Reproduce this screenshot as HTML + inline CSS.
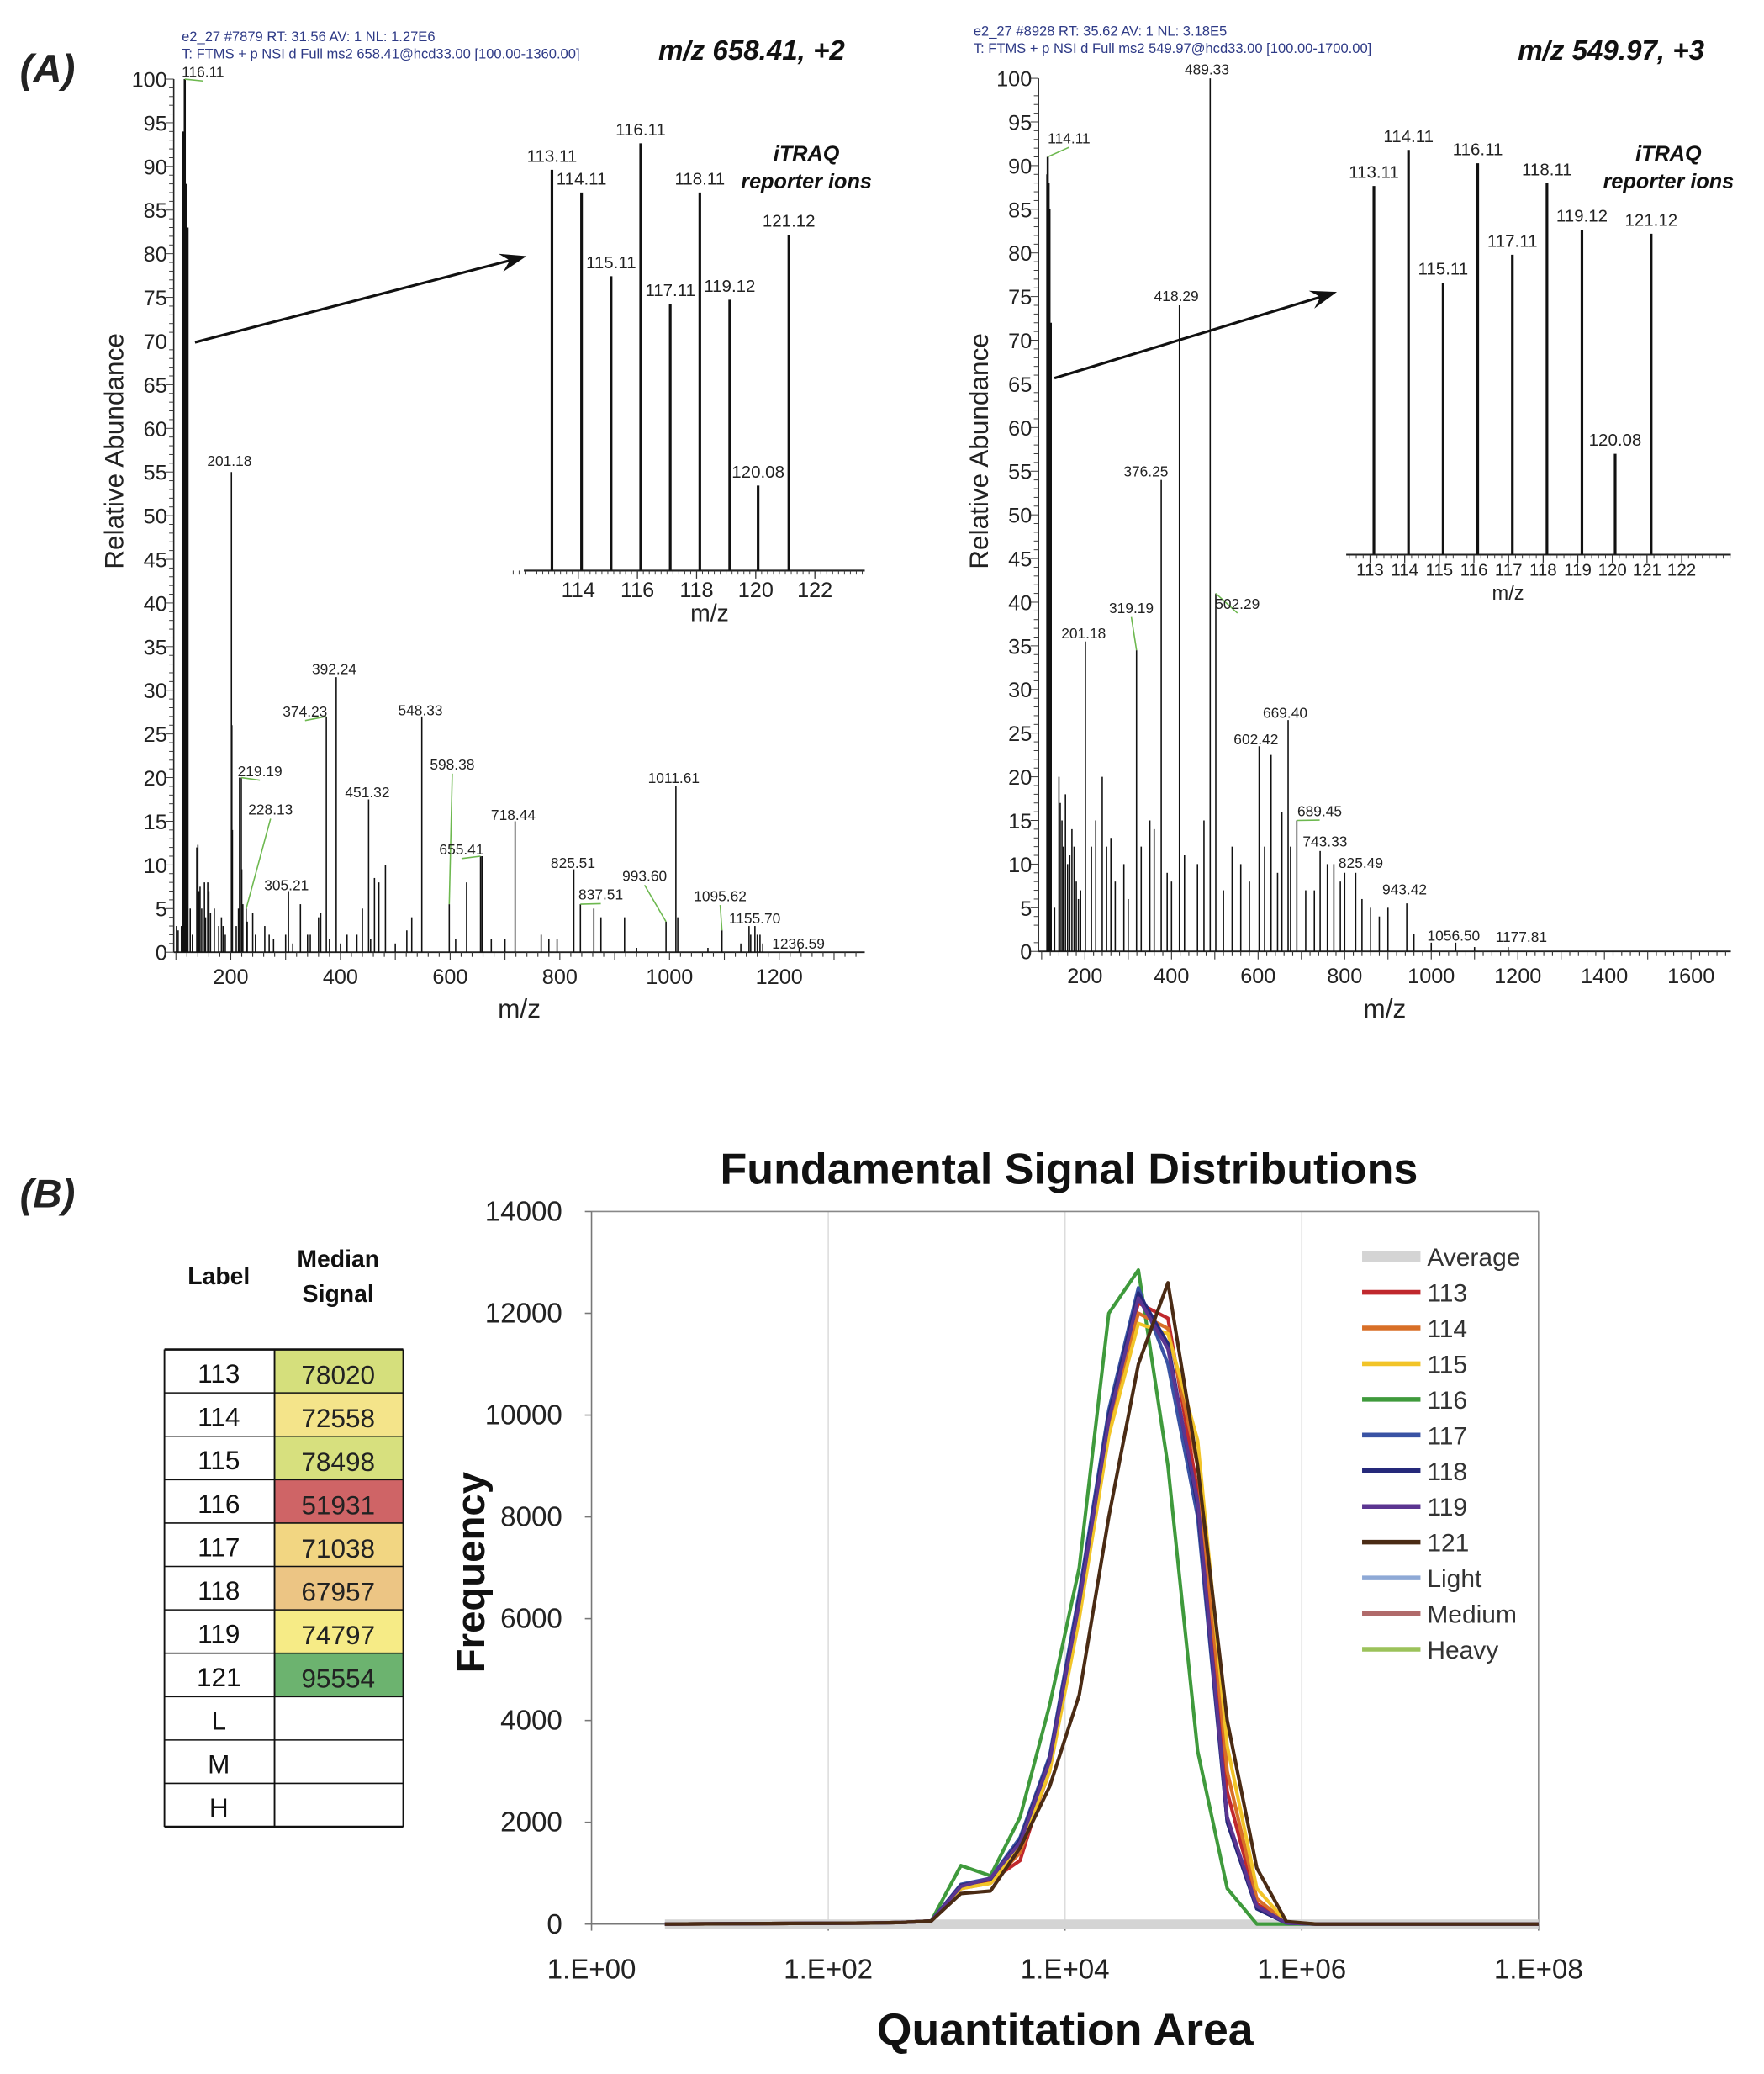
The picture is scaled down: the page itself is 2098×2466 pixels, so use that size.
<!DOCTYPE html>
<html><head><meta charset="utf-8"><title>iTRAQ spectra and signal distributions</title>
<style>
html,body{margin:0;padding:0;background:#fff;}
svg{display:block;font-family:"Liberation Sans",sans-serif;}
.narrow{font-family:"Liberation Sans Narrow","Liberation Sans",sans-serif;}
</style></head>
<body>
<svg id="fig" width="2098" height="2466" viewBox="0 0 1330 1563" preserveAspectRatio="none" xmlns="http://www.w3.org/2000/svg">
<g id="A"></g><g id="B"></g>
</svg>
<script>
// ===== Panel A data: left spectrum (m/z 658.41, +2) =====
const leftMz = [101,104,110,113.11,114.11,115.11,116.11,117.11,118.11,119.12,120.08,121.12,126,130,138,140,142,144,147,152,154,158,160,163,170,178,183,186,190,201.18,202,203,210,214,216,219.19,220,222,228.13,230,240,245,262,270,278,300,305.21,313,327,340,345,360,364,374.23,380,392.24,400,412,430,440,451.32,455,462,470,482,500,521,530,548.33,598.38,610,630,655.41,658,675,700,718.44,766,780,795,825.51,837.51,862,875,918,940,993.60,1011.61,1015,1070,1095.62,1130,1145,1148,1155.70,1160,1165,1170,1236.59];
const leftInt = [3,2.5,3,94,89,79,100,65,88,76,54,83,5,2,12,12.3,7,7.5,5,8,4,8,7,4.5,5,3,4,3,2,55,26,14,3,5,20,20,9.5,5.5,5,3.5,4.5,2,3,2,1.5,2,7,1,5.5,2,2,4,4.5,27,1.5,31.5,1,2,2,5,17.5,1.5,8.5,8,10,1,2.5,4,27,5.5,1.5,8,11,11,1.5,1.5,15,2,1.5,1.5,9.5,5.5,5,4,4,0.5,3.5,19,4,0.5,2.5,1,3,2,3,2,2,1,0.5];
const leftLabels = [["116.11",116.11,153,58],["201.18",201.18,173,351],["219.19",219.19,196,585],["228.13",228.13,204,614],["305.21",305.21,216,671],["374.23",374.23,230,540],["392.24",392.24,252,508],["451.32",451.32,277,601],["548.33",548.33,317,539],["598.38",598.38,341,580],["655.41",655.41,348,644],["718.44",718.44,387,618],["825.51",825.51,432,654],["837.51",837.51,453,678],["993.60",993.60,486,664],["1011.61",1011.61,508,590],["1095.62",1095.62,543,679],["1155.70",1155.70,569,696],["1236.59",1236.59,602,715]];
const leftXTicks = [200,400,600,800,1000,1200];
const insLMz = [113.11,114.11,115.11,116.11,117.11,118.11,119.12,120.08,121.12];
const insLInt = [93.8,88.5,68.9,100,62.4,88.5,63.4,19.9,78.6];
const insLTicks = [114,116,118,120,122];
// ===== right spectrum (m/z 549.97, +3) =====
const rightMz = [113.11,114.11,115.11,116.11,117.11,118.11,119.12,121.12,130,140,143,147,150,155,160,165,170,175,180,185,190,201.18,215,225,240,250,260,270,290,300,319.19,330,350,360,376.25,390,400,418.29,430,460,475,489.33,502.29,520,540,560,580,602.42,615,630,645,655,669.40,675,689.45,710,730,743.33,760,775,790,800,825.49,840,860,880,900,943.42,960,1000,1056.50,1100,1177.81];
const rightInt = [89,91,73,88,75,85,70,72,5,20,17,15,12,18,10,11,14,12,8,6,7,35.5,12,15,20,12,13,8,10,6,34.5,12,15,14,54,9,8,74,11,10,15,100,41,7,12,10,8,23.5,12,22.5,9,16,26.5,12,15,7,7,11.5,10,10,8,9,9,6,5,4,5,5.5,2,1,1,0.5,0.5];
const rightLabels = [["114.11",114.11,806,108],["489.33",489.33,910,56],["418.29",418.29,887,227],["376.25",376.25,864,359],["319.19",319.19,853,462],["201.18",201.18,817,481],["502.29",502.29,933,459],["669.40",669.40,969,541],["602.42",602.42,947,561],["689.45",689.45,995,615],["743.33",743.33,999,638],["825.49",825.49,1026,654],["943.42",943.42,1059,674],["1056.50",1056.50,1096,709],["1177.81",1177.81,1147,710]];
const rightXTicks = [200,400,600,800,1000,1200,1400,1600];
const insRMz = [113.11,114.11,115.11,116.11,117.11,118.11,119.12,120.08,121.12];
const insRInt = [91.1,100,67.2,96.7,74.1,91.8,80.3,24.9,79.3];
const insRTicks = [113,114,115,116,117,118,119,120,121,122];

// ===== Panel B data =====
const tableLabels = ["113","114","115","116","117","118","119","121","L","M","H"];
const tableValues = ["78020","72558","78498","51931","71038","67957","74797","95554","","",""];
const tableColors = ["#d5df7c","#f4e48a","#d7e07e","#cf6466","#f2d682","#ecc584","#f6eb86","#6cb36f","#fff","#fff","#fff"];
const seriesNames = ["Average","113","114","115","116","117","118","119","121","Light","Medium","Heavy"];
const seriesColors = ["#d4d4d4","#c0282d","#d86f27","#f2c428","#3f9a3c","#3953a4","#25297a","#5b3591","#4a2b14","#8ea9d6","#b06a6a","#9bc25a"];
const logX = [0.62,2.37,2.62,2.87,3.12,3.37,3.62,3.87,4.12,4.37,4.62,4.87,5.12,5.37,5.62,5.87,6.12,8.0];
const sAverage = [0,0,0,0,0,0,0,0,0,0,0,0,0,0,0,0,0,0];
const s113 = [0,20,30,60,700,850,1250,3100,6300,10000,12200,11900,8500,2600,400,30,0,0];
const s114 = [0,20,30,60,700,800,1400,3000,6200,9800,12000,11700,9000,3000,500,30,0,0];
const s115 = [0,20,30,60,700,800,1500,3000,6000,9600,11800,11600,9500,3500,700,40,0,0];
const s116 = [0,20,30,60,1150,950,2100,4300,7000,12000,12850,9000,3400,700,0,0,0,0];
const s117 = [0,20,30,60,780,900,1700,3300,6500,10100,12500,11000,8000,2000,300,20,0,0];
const s118 = [0,20,30,60,760,880,1650,3250,6400,10000,12400,11400,8200,2000,300,20,0,0];
const s119 = [0,20,30,60,740,900,1600,3200,6300,9900,12300,11300,8300,2100,350,20,0,0];
const s121 = [0,20,30,60,600,650,1500,2700,4500,8000,11000,12600,9000,4000,1100,50,0,0];
const sLight = [0,0,0,0,0,0,0,0,0,0,0,0,0,0,0,0,0,0];
const sMedium = [0,0,0,0,0,0,0,0,0,0,0,0,0,0,0,0,0,0];
const sHeavy = [0,0,0,0,0,0,0,0,0,0,0,0,0,0,0,0,0,0];
const yTicksB = [0,2000,4000,6000,8000,10000,12000,14000];
const xTicksB = ["1.E+00","1.E+02","1.E+04","1.E+06","1.E+08"];

const NS="http://www.w3.org/2000/svg";
function mk(parent,tag,attrs,text){const e=document.createElementNS(NS,tag);for(const k in attrs)e.setAttribute(k,attrs[k]);if(text!==undefined)e.textContent=text;parent.appendChild(e);return e;}
const A=document.getElementById('A'), B=document.getElementById('B');

let t;
t=mk(A,'text',{x:15,y:62,'font-size':30,'font-weight':'bold','font-style':'italic',fill:'#222'},'(A)');

t=mk(B,'text',{x:15,y:910,'font-size':30,'font-weight':'bold','font-style':'italic',fill:'#222'},'(B)');


function spectrum(cfg){
  const g=mk(A,'g',{});
  
  const X=mz=>cfg.x0+(mz-cfg.mz0)*cfg.kx, Y=v=>cfg.y0-v*cfg.ky;
  t=mk(g,'text',{x:cfg.hx,y:cfg.hy,'font-size':10.5,fill:'#2e3a86'},cfg.h1);
  
  t=mk(g,'text',{x:cfg.hx,y:cfg.hy+13,'font-size':10.5,fill:'#2e3a86'},cfg.h2);
  
  t=mk(g,'text',{x:cfg.tx,y:45,'font-size':21,'font-weight':'bold','font-style':'italic','text-anchor':'end',fill:'#111'},cfg.title);
  
  mk(g,'line',{x1:cfg.ax,y1:Y(100),x2:cfg.ax,y2:cfg.y0,stroke:'#222','stroke-width':1});
  mk(g,'line',{x1:cfg.ax,y1:cfg.y0,x2:cfg.xend,y2:cfg.y0,stroke:'#222','stroke-width':1.2});
  for(let v=0;v<=100;v++){const major=v%5===0;mk(g,'line',{x1:cfg.ax-(major?6:3.5),y1:Y(v),x2:cfg.ax,y2:Y(v),stroke:'#333','stroke-width':0.6});
    if(major){t=mk(g,'text',{x:cfg.ax-5,y:Y(v)+6,'font-size':16,'text-anchor':'end',fill:'#222'},String(v));}}
  for(let m=100;X(m)<=cfg.xend;m+=20){const major=m%100===0;mk(g,'line',{x1:X(m),y1:cfg.y0,x2:X(m),y2:cfg.y0+(major?6:3.5),stroke:'#333','stroke-width':0.7});}
  cfg.xticks.forEach(m=>{t=mk(g,'text',{x:X(m),y:cfg.y0+24,'font-size':16,'text-anchor':'middle',fill:'#222'},String(m));});
  t=mk(g,'text',{x:(cfg.ax+cfg.xend)/2,y:767,'font-size':20,'text-anchor':'middle',fill:'#222'},'m/z');
  
  t=mk(g,'text',{x:0,y:0,'font-size':20,'text-anchor':'middle',fill:'#222',transform:`translate(${cfg.ax-38},340) rotate(-90)`},'Relative Abundance');
  
  cfg.mz.forEach((m,i)=>{const p=mk(g,'line',{x1:X(m),y1:cfg.y0,x2:X(m),y2:Y(cfg.int[i]),stroke:'#111','stroke-width':i<12&&cfg.int[i]>50?1.6:1});
    });
  cfg.labels.forEach(L=>{const idx=cfg.mz.indexOf(L[1]);const px=X(L[1]),py=Y(idx>=0?cfg.int[idx]:1);
    if(Math.abs(L[2]-px)>12||L[3]<py-14){mk(g,'line',{x1:px,y1:py,x2:L[2],y2:L[3]+3,stroke:'#6db84f','stroke-width':1});}
    t=mk(g,'text',{x:L[2],y:L[3],'font-size':11,'text-anchor':'middle',fill:'#222'},L[0]);});
  const ig=mk(g,'g',{});
  const IX=m=>cfg.ix0+(m-cfg.imz0)*cfg.ikx, IY=v=>cfg.iy0-v*cfg.iky;
  mk(ig,'line',{x1:cfg.ixs,y1:cfg.iy0,x2:cfg.ixe,y2:cfg.iy0,stroke:'#222','stroke-width':1.3});
  for(let m=Math.ceil(cfg.imzs*5)/5;IX(m)<=cfg.ixe;m+=0.2){mk(ig,'line',{x1:IX(m),y1:cfg.iy0,x2:IX(m),y2:cfg.iy0+3,stroke:'#333','stroke-width':0.6});}
  cfg.iticks.forEach(m=>{mk(ig,'line',{x1:IX(m),y1:cfg.iy0,x2:IX(m),y2:cfg.iy0+6,stroke:'#333','stroke-width':0.8});
    t=mk(ig,'text',{x:IX(m),y:cfg.iy0+cfg.itd,'font-size':cfg.ifs,'text-anchor':'middle',fill:'#222'},String(m));});
  t=mk(ig,'text',{x:cfg.imx,y:cfg.iy0+cfg.itd+18,'font-size':cfg.ifs+2,'text-anchor':'middle',fill:'#222'},'m/z');
  
  cfg.imz.forEach((m,i)=>{const p=mk(ig,'line',{x1:IX(m),y1:cfg.iy0,x2:IX(m),y2:IY(cfg.iint[i]),stroke:'#111','stroke-width':2});
    
    t=mk(ig,'text',{x:IX(m),y:IY(cfg.iint[i])-6,'font-size':13,'text-anchor':'middle',fill:'#222'},m.toFixed(2));
    });
  t=mk(ig,'text',{x:cfg.itx,y:121,'font-size':16,'font-weight':'bold','font-style':'italic','text-anchor':'middle',fill:'#111'},'iTRAQ');
  
  t=mk(ig,'text',{x:cfg.itx,y:142,'font-size':16,'font-weight':'bold','font-style':'italic','text-anchor':'middle',fill:'#111'},'reporter ions');
  
  const a=cfg.arrow;const ang=Math.atan2(a[3]-a[1],a[2]-a[0]);
  mk(g,'line',{x1:a[0],y1:a[1],x2:a[2]-10*Math.cos(ang),y2:a[3]-10*Math.sin(ang),stroke:'#111','stroke-width':2});
  const hx=a[2],hy=a[3],L=20,W=7;
  const ar=mk(g,'polygon',{points:`${hx},${hy} ${hx-L*Math.cos(ang)+W*Math.sin(ang)},${hy-L*Math.sin(ang)-W*Math.cos(ang)} ${hx-13*Math.cos(ang)},${hy-13*Math.sin(ang)} ${hx-L*Math.cos(ang)-W*Math.sin(ang)},${hy-L*Math.sin(ang)+W*Math.cos(ang)}`,fill:'#111'});
  
}
spectrum({name:'spectrum-left',x0:174,mz0:200,kx:0.4135,y0:717.6,ky:6.58,ax:131,xend:652,
  hx:137,hy:31,h1:'e2_27 #7879  RT: 31.56  AV: 1  NL: 1.27E6',h2:'T: FTMS + p NSI d Full ms2 658.41@hcd33.00 [100.00-1360.00]',
  tx:637,title:'m/z 658.41, +2',xticks:leftXTicks,mz:leftMz,int:leftInt,labels:leftLabels,
  ix0:436,imz0:114,ikx:22.3,iy0:430,iky:3.22,ixs:395,ixe:652,imzs:111.7,iticks:insLTicks,itd:20,ifs:16,imx:535,
  imz:insLMz,iint:insLInt,itx:608,arrow:[147,258,397,193]});
spectrum({name:'spectrum-right',x0:818,mz0:200,kx:0.3264,y0:717,ky:6.58,ax:783,xend:1305,
  hx:734,hy:27,h1:'e2_27 #8928  RT: 35.62  AV: 1  NL: 3.18E5',h2:'T: FTMS + p NSI d Full ms2 549.97@hcd33.00 [100.00-1700.00]',
  tx:1285,title:'m/z 549.97, +3',xticks:rightXTicks,mz:rightMz,int:rightInt,labels:rightLabels,
  ix0:1033,imz0:113,ikx:26.1,iy0:418,iky:3.05,ixs:1015,ixe:1305,imzs:112.3,iticks:insRTicks,itd:16,ifs:13,imx:1137,
  imz:insRMz,iint:insRInt,itx:1258,arrow:[795,285,1008,220]});

// ===== Panel B: table =====
const tg=mk(B,'g',{class:'narrow'});

t=mk(tg,'text',{x:165,y:968,'font-size':18,'font-weight':'bold','text-anchor':'middle',fill:'#111'},'Label');

t=mk(tg,'text',{x:255,y:955,'font-size':18,'font-weight':'bold','text-anchor':'middle',fill:'#111'},'Median');

t=mk(tg,'text',{x:255,y:981,'font-size':18,'font-weight':'bold','text-anchor':'middle',fill:'#111'},'Signal');

const rowH=32.7, top0=1017;
tableLabels.forEach((lb,i)=>{const y=top0+i*rowH;
  const c=mk(tg,'rect',{x:207,y:y,width:97,height:rowH,fill:tableColors[i]});
  t=mk(tg,'text',{x:165,y:y+25,'font-size':20,'text-anchor':'middle',fill:'#111'},lb);
  t=mk(tg,'text',{x:255,y:y+26,'font-size':20,'text-anchor':'middle',fill:'#222'},tableValues[i]);
});
for(let i=0;i<=tableLabels.length;i++){mk(tg,'line',{x1:124,y1:top0+i*rowH,x2:304,y2:top0+i*rowH,stroke:'#111','stroke-width':i===0||i===tableLabels.length?1.6:1});}
[124,207,304].forEach(x=>mk(tg,'line',{x1:x,y1:top0,x2:x,y2:top0+tableLabels.length*rowH,stroke:'#111','stroke-width':1.2}));

// ===== Panel B: chart =====
const cg=mk(B,'g',{});
const PL=446,PR=1160,PT=913,PB=1450;
const xs=l=>PL+(l/8)*(PR-PL), ys=v=>PB-(v/14000)*(PB-PT);
t=mk(cg,'text',{x:806,y:892,'font-size':33,'font-weight':'bold','text-anchor':'middle',fill:'#111',class:'narrow'},'Fundamental Signal Distributions');

[2,4,6].forEach(d=>mk(cg,'line',{x1:xs(d),y1:PT,x2:xs(d),y2:PB,stroke:'#dcdcdc','stroke-width':1}));
mk(cg,'line',{x1:PL,y1:PT,x2:PR,y2:PT,stroke:'#888','stroke-width':1});
mk(cg,'line',{x1:PR,y1:PT,x2:PR,y2:PB,stroke:'#888','stroke-width':1});
mk(cg,'line',{x1:PL,y1:PT,x2:PL,y2:PB,stroke:'#777','stroke-width':1});
mk(cg,'line',{x1:PL,y1:PB,x2:PR,y2:PB,stroke:'#777','stroke-width':1});
yTicksB.forEach(v=>{mk(cg,'line',{x1:PL-5,y1:ys(v),x2:PL,y2:ys(v),stroke:'#777'});
  t=mk(cg,'text',{x:PL-22,y:ys(v)+7,'font-size':21,'text-anchor':'end',fill:'#222',class:'narrow'},String(v));});
xTicksB.forEach((lb,i)=>{mk(cg,'line',{x1:xs(i*2),y1:PB,x2:xs(i*2),y2:PB+5,stroke:'#777'});
  t=mk(cg,'text',{x:xs(i*2),y:PB+41,'font-size':21,'text-anchor':'middle',fill:'#222',class:'narrow'},lb);});
t=mk(cg,'text',{x:0,y:0,'font-size':30,'font-weight':'bold','text-anchor':'middle',fill:'#111',transform:'translate(365,1185) rotate(-90)'},'Frequency');

t=mk(cg,'text',{x:803,y:1541,'font-size':34,'font-weight':'bold','text-anchor':'middle',fill:'#111',class:'narrow'},'Quantitation Area');

const allSeries=[sAverage,s113,s114,s115,s116,s117,s118,s119,s121,sLight,sMedium,sHeavy];
const drawOrder=[9,10,11,0,4,1,2,3,5,6,7,8];
drawOrder.forEach(i=>{const pts=allSeries[i].map((v,j)=>xs(logX[j]).toFixed(1)+','+ys(v).toFixed(1)).join(' ');
  const p=mk(cg,'polyline',{points:pts,fill:'none',stroke:seriesColors[i],'stroke-width':i===0?7:2.6,'stroke-linejoin':'round'});
  });
const lg=mk(cg,'g',{class:'narrow'});
seriesNames.forEach((n,i)=>{const y=947+i*26.9;
  const e=mk(lg,'g',{});
  mk(e,'line',{x1:1027,y1:y,x2:1071,y2:y,stroke:seriesColors[i],'stroke-width':i===0?8:3.5});
  mk(e,'text',{x:1076,y:y+7,'font-size':19,fill:'#333'},n);});
</script>
</body></html>
